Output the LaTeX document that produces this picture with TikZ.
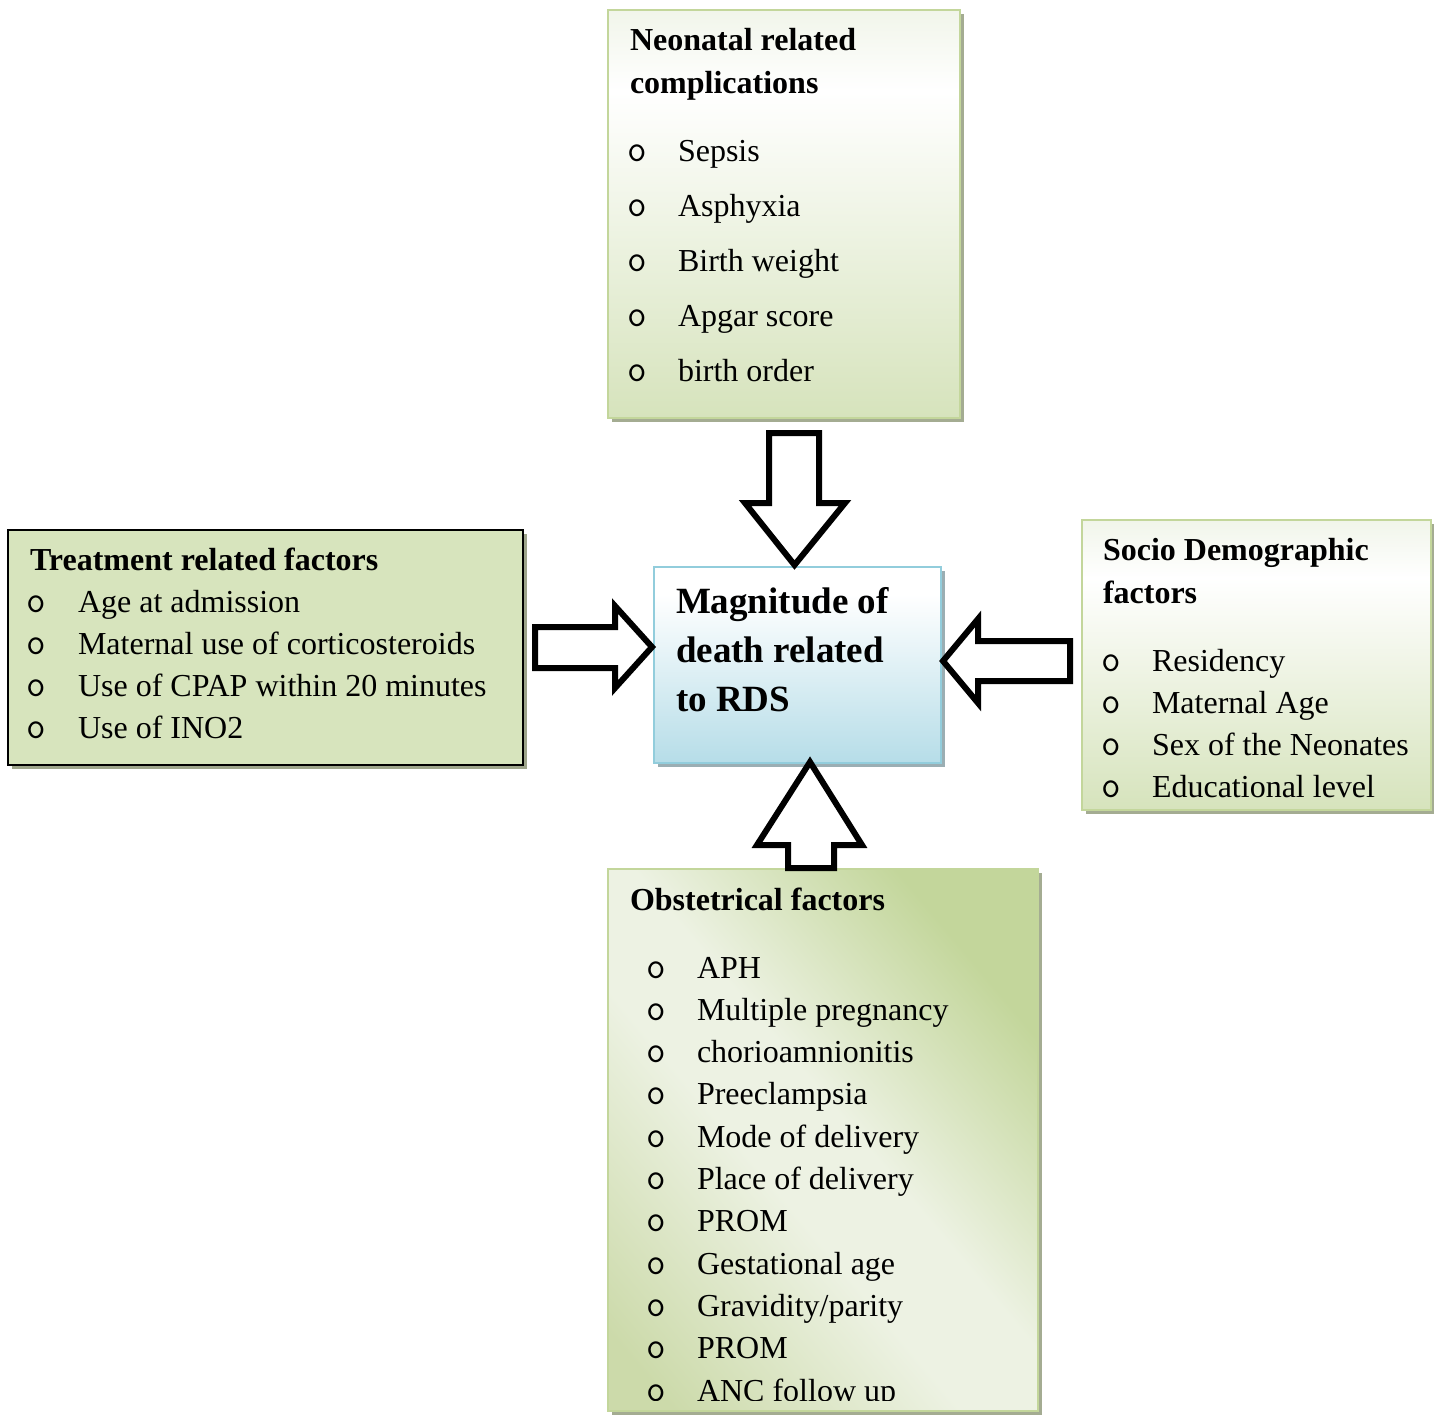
\documentclass[tikz,border=0pt]{standalone}
\usepackage{fontspec}
\setmainfont{Liberation Serif}
\usetikzlibrary{shadows}
\definecolor{gfill}{HTML}{D6E3BC}
\definecolor{gtop}{HTML}{F1F5EA}
\definecolor{gborder}{HTML}{C3D69B}
\definecolor{gshadow}{HTML}{A4AC92}
\definecolor{tfill}{HTML}{D7E4BD}
\definecolor{tshadow}{HTML}{9EA58B}
\definecolor{bfill}{HTML}{B6DDE8}
\definecolor{bborder}{HTML}{92CDDC}
\definecolor{bshadow}{HTML}{9BAEB3}
\definecolor{ogdark}{HTML}{C3D69B}
\definecolor{oglight}{HTML}{EDF2E3}
\definecolor{ogmid}{HTML}{CCDAAA}
\pgfdeclareverticalshading{ngrad}{100bp}{color(0bp)=(gfill); color(25bp)=(gfill); color(65bp)=(white); color(75bp)=(gtop); color(100bp)=(gtop)}
\pgfdeclareverticalshading{cgrad}{100bp}{color(0bp)=(bfill); color(25bp)=(bfill); color(68bp)=(white); color(75bp)=(white); color(100bp)=(white)}
\pgfdeclareverticalshading{ograd}{100bp}{color(0bp)=(ogmid); color(20bp)=(ogmid); color(43bp)=(oglight); color(53bp)=(oglight); color(74bp)=(ogdark); color(100bp)=(ogdark)}
\begin{document}
\begin{tikzpicture}[x=1pt,y=-1pt,
  box/.style={rectangle,anchor=north west,inner sep=0pt,outer sep=0pt},
  greenbox/.style={box,draw=gborder,line width=2.5pt,shading=ngrad,
     drop shadow={fill=gshadow,opacity=1,shadow xshift=3.5pt,shadow yshift=-3.5pt}},
  treatbox/.style={box,draw=black,line width=2pt,fill=tfill,
     drop shadow={fill=tshadow,opacity=1,shadow xshift=3.5pt,shadow yshift=-3.5pt}},
  centerbox/.style={box,draw=bborder,line width=2.5pt,shading=cgrad,
     drop shadow={fill=bshadow,opacity=1,shadow xshift=3.5pt,shadow yshift=-3.5pt}},
  obstbox/.style={box,draw=gborder,line width=2.5pt,shading=ograd,shading angle=-50,
     drop shadow={fill=gshadow,opacity=1,shadow xshift=3.5pt,shadow yshift=-3.5pt}},
  txt/.style={anchor=base west,inner sep=0pt,outer sep=0pt,font=\fontsize{32}{42}\selectfont},
  ttl/.style={anchor=base west,inner sep=0pt,outer sep=0pt,font=\fontsize{32}{42}\selectfont\bfseries},
  ctl/.style={anchor=base west,inner sep=0pt,outer sep=0pt,font=\fontsize{37}{49}\selectfont\bfseries},
  bul/.style={anchor=base west,inner sep=0pt,outer sep=0pt,font=\fontsize{38}{42}\selectfont\ttfamily},
  blockarrow/.style={draw=black,fill=white,line width=6pt,line join=miter,miter limit=10}
]
\useasboundingbox (0,0) rectangle (1434,1414);
\fill[white] (0,0) rectangle (1434,1414);

% boxes
\node[greenbox,minimum width=352pt,minimum height=408pt] (nb) at (608,10) {};
\node[treatbox,minimum width=515pt,minimum height=235pt] (tb) at (8,530) {};
\node[centerbox,minimum width=287pt,minimum height=196pt] (cb) at (654,567) {};
\node[greenbox,minimum width=349pt,minimum height=290pt] (sb) at (1082,520) {};
\node[obstbox,minimum width=430pt,minimum height=542pt] (ob) at (608,869) {};

% Neonatal
\node[ttl] (nt1) at (630,50) {Neonatal related};
\node[ttl] (nt2) at (630,93) {complications};
\foreach \t [count=\i] in {Sepsis,Asphyxia,Birth weight,Apgar score,birth order}{
  \node[bul] (nbul\i) at (627,{161+55*(\i-1)}) {o};
  \node[txt] (nit\i) at (678,{161+55*(\i-1)}) {\t};
}

% Treatment
\node[ttl] (tt1) at (30,570) {Treatment related factors};
\foreach \t [count=\i] in {Age at admission,Maternal use of corticosteroids,Use of CPAP within 20 minutes,Use of INO2}{
  \node[bul] (tbul\i) at (27,{612+42*(\i-1)}) {o};
  \node[txt] (tit\i) at (78,{612+42*(\i-1)}) {\t};
}

% Central
\node[ctl] (ct1) at (676,613) {Magnitude of};
\node[ctl] (ct2) at (676,662) {death related};
\node[ctl] (ct3) at (676,711) {to RDS};

% Socio
\node[ttl] (st1) at (1103,560) {Socio Demographic};
\node[ttl] (st2) at (1103,603) {factors};
\foreach \t [count=\i] in {Residency,Maternal Age,Sex of the Neonates,Educational level}{
  \node[bul] (sbul\i) at (1101,{671+42.3*(\i-1)}) {o};
  \node[txt] (sit\i) at (1152,{671+42.3*(\i-1)}) {\t};
}

% Obstetrical
\node[ttl] (ot1) at (630,910) {Obstetrical factors};
\begin{scope}
\clip (608,869) rectangle (1038,1400);
\foreach \t [count=\i] in {APH,Multiple pregnancy,chorioamnionitis,Preeclampsia,Mode of delivery,Place of delivery,PROM,Gestational age,Gravidity/parity,PROM,ANC follow up}{
  \node[bul] (obul\i) at (646,{978+42.3*(\i-1)}) {o};
  \node[txt] (oit\i) at (697,{978+42.3*(\i-1)}) {\t};
}
\end{scope}

% block arrows
\draw[blockarrow] (769,433) -- (819,433) -- (819,503) -- (845,503) -- (794.5,565) -- (745,503) -- (769,503) -- cycle;
\draw[blockarrow] (535,627) -- (615,627) -- (615,606) -- (652,647) -- (615,688) -- (615,668) -- (535,668) -- cycle;
\draw[blockarrow] (1070,641) -- (978,641) -- (978,619) -- (943,661) -- (978,703) -- (978,681) -- (1070,681) -- cycle;
\draw[blockarrow] (788,868) -- (788,845) -- (757,845) -- (810,762) -- (862,845) -- (834,845) -- (834,868) -- cycle;
\end{tikzpicture}
\end{document}
